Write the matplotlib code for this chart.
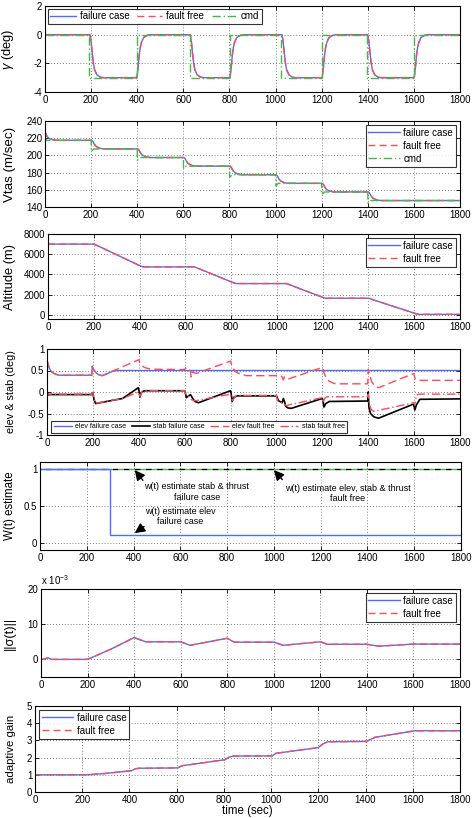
import matplotlib
matplotlib.use("Agg")
import matplotlib.pyplot as plt
from matplotlib.ticker import FuncFormatter

plt.rcParams['font.family'] = ['Liberation Sans', 'DejaVu Sans']
plt.rcParams['axes.unicode_minus'] = False
plt.rcParams['mathtext.fontset'] = 'custom'
plt.rcParams['mathtext.rm'] = 'Liberation Sans'
plt.rcParams['mathtext.it'] = 'Liberation Sans:italic'

BLUE = '#4f6dff'
RED = '#ff4a5a'
GREEN = '#3cbf3c'

time_ticks = [0, 200, 400, 600, 800, 1000, 1200, 1400, 1600, 1800]

# ---------------- Panel 1: flight path angle ----------------
gamma_t = [0, 195, 200, 205, 210, 215, 225, 240, 255,
           398, 403, 408, 413, 418, 428, 443, 458,
           630, 635, 640, 645, 650, 660, 675, 690,
           802, 807, 812, 817, 822, 832, 847, 862,
           1028, 1033, 1038, 1043, 1048, 1058, 1073, 1088,
           1202, 1207, 1212, 1217, 1222, 1232, 1247, 1262,
           1400, 1405, 1410, 1415, 1420, 1430, 1445, 1460,
           1601, 1606, 1611, 1616, 1621, 1631, 1646, 1661, 1800]
gamma_fail = [0, 0, -0.5, -1.3, -2.0, -2.45, -2.8, -2.97, -3.0,
              -3.0, -2.4, -1.5, -0.9, -0.55, -0.2, -0.05, 0.0,
              0, -0.5, -1.3, -2.0, -2.45, -2.8, -2.97, -3.0,
              -3.0, -2.4, -1.5, -0.9, -0.55, -0.2, -0.05, 0.0,
              0, -0.5, -1.3, -2.0, -2.45, -2.8, -2.97, -3.0,
              -3.0, -2.4, -1.5, -0.9, -0.55, -0.2, -0.05, 0.0,
              0, -0.5, -1.3, -2.0, -2.45, -2.8, -2.97, -3.0,
              -3.0, -2.4, -1.5, -0.9, -0.55, -0.2, -0.05, 0.0, 0.0]
gamma_ff = list(gamma_fail)
gamma_cmd_t = [0, 192, 192, 398, 398, 627, 627, 801, 801, 1025, 1025,
               1201, 1201, 1397, 1397, 1600, 1600, 1800]
gamma_cmd = [0, 0, -3, -3, 0, 0, -3, -3, 0, 0, -3, -3, 0, 0, -3, -3, 0, 0]

# ---------------- Panel 2: true airspeed ----------------
vtas_t = [0, 5, 10, 20, 30, 45, 60,
          203, 208, 213, 218, 223, 233, 243, 258,
          403, 408, 413, 418, 423, 433, 443, 458,
          603, 608, 613, 618, 623, 633, 643, 658,
          803, 808, 813, 818, 823, 833, 843, 858,
          1003, 1008, 1013, 1018, 1023, 1033, 1043, 1058,
          1203, 1208, 1213, 1218, 1223, 1233, 1243, 1258,
          1403, 1408, 1413, 1418, 1423, 1433, 1443, 1458, 1800]
vtas_fail = [228, 224, 221.5, 219.5, 218.5, 217.8, 217.5,
             217.5, 216, 213.5, 211.5, 210.2, 208.7, 208, 207.5,
             207.5, 206, 203.5, 201.5, 200.2, 198.7, 198, 197.5,
             197.5, 196, 193.5, 191.5, 190.2, 188.7, 188, 187.5,
             187.5, 186, 183.5, 181.5, 180.2, 178.7, 178, 177.5,
             177.5, 176, 173.5, 171.5, 170.2, 168.7, 168, 167.5,
             167.5, 166, 163.5, 161.5, 160.2, 158.7, 158, 157.5,
             157.5, 156, 153.5, 151.5, 150.2, 148.7, 148, 147.5, 147.5]
vtas_ff = list(vtas_fail)
vtas_cmd_t = [0, 5, 200, 201, 212, 400, 401, 412, 600, 601, 612, 800, 801, 812,
              1000, 1001, 1012, 1200, 1201, 1212, 1400, 1401, 1412, 1800]
vtas_cmd = [222, 217.5, 217.5, 204.5, 207.5, 207.5, 194.5, 197.5, 197.5, 184.5, 187.5,
            187.5, 174.5, 177.5, 177.5, 164.5, 167.5, 167.5, 154.5, 157.5, 157.5,
            144.5, 147.5, 147.5]

# ---------------- Panel 3: altitude ----------------
alt_t = [0, 200, 212, 400, 415, 640, 652, 808, 822, 1043, 1055, 1200, 1212, 1402, 1415, 1605, 1618, 1800]
alt_fail = [7000, 7000, 6890, 4880, 4750, 4750, 4640, 3200, 3100, 3100, 2990, 1740, 1650,
            1650, 1540, 140, 60, 60]
alt_ff = list(alt_fail)

# ---------------- Panel 4: elevator & stabilizer ----------------
elev_fail_t = [0, 3, 10, 20, 30, 45, 60, 195, 197, 200, 210, 225, 240, 260, 280, 300, 1800]
elev_fail = [0.75, 0.68, 0.55, 0.47, 0.43, 0.40, 0.39, 0.39, 0.60, 0.55, 0.47, 0.40,
             0.38, 0.42, 0.47, 0.50, 0.50]

elev_ff_t = [0, 3, 10, 20, 30, 45, 60, 195, 197, 200, 210, 225, 240, 400, 403, 412, 425,
             445, 470, 600, 604, 608, 625, 628, 632, 640, 650, 800, 803, 812, 825, 845,
             870, 1000, 1005, 1015, 1025, 1030, 1035, 1040, 1050, 1200, 1204, 1215,
             1230, 1250, 1270, 1398, 1400, 1405, 1415, 1430, 1445, 1598, 1602, 1606,
             1615, 1800]
elev_ff = [0.75, 0.68, 0.55, 0.47, 0.43, 0.40, 0.39, 0.39, 0.60, 0.55, 0.47, 0.40, 0.38,
           0.75, 0.70, 0.62, 0.57, 0.54, 0.53, 0.52, 0.56, 0.50, 0.50, 0.35, 0.47, 0.45,
           0.43, 0.72, 0.66, 0.54, 0.46, 0.41, 0.38, 0.38, 0.39, 0.38, 0.35, 0.28, 0.35,
           0.33, 0.30, 0.57, 0.50, 0.34, 0.25, 0.20, 0.19, 0.19, 0.52, 0.42, 0.24, 0.13,
           0.10, 0.43, 0.35, 0.30, 0.27, 0.27]

stab_fail_t = [0, 2, 5, 10, 195, 200, 205, 212, 220, 330, 398, 402, 405, 410, 420, 430,
               600, 603, 607, 615, 625, 630, 635, 645, 660, 800, 803, 807, 815, 830,
               1000, 1003, 1008, 1025, 1030, 1035, 1040, 1050, 1065, 1200, 1203, 1207,
               1215, 1230, 1398, 1400, 1403, 1410, 1425, 1445, 1598, 1603, 1610, 1625, 1800]
stab_fail = [0.05, -0.03, -0.07, -0.06, -0.06, -0.02, -0.18, -0.27, -0.26, -0.15, 0.10,
             0.00, -0.12, -0.02, 0.02, 0.03, 0.03, -0.02, -0.13, -0.10, -0.06, -0.10,
             -0.15, -0.22, -0.25, 0.03, -0.05, -0.22, -0.12, -0.09, -0.09, -0.12, -0.20,
             -0.25, -0.15, -0.22, -0.33, -0.37, -0.38, -0.15, -0.20, -0.35, -0.27, -0.22,
             -0.21, 0.00, -0.35, -0.50, -0.58, -0.61, -0.28, -0.42, -0.30, -0.17, -0.16]

stab_ff_t = [0, 2, 5, 10, 195, 200, 205, 212, 225, 330, 398, 402, 405, 412, 420, 430,
             600, 605, 620, 630, 640, 650, 800, 803, 810, 820, 830, 1000, 1005, 1015,
             1030, 1045, 1055, 1200, 1203, 1210, 1220, 1398, 1400, 1405, 1415, 1425,
             1598, 1603, 1610, 1620, 1800]
stab_ff = [0.05, -0.03, -0.05, -0.05, -0.05, -0.02, -0.18, -0.26, -0.25, -0.15, 0.00,
           -0.05, -0.10, -0.02, 0.02, 0.03, 0.03, -0.05, -0.12, -0.18, -0.20, -0.20,
           -0.05, -0.15, -0.20, -0.10, -0.08, -0.08, -0.20, -0.22, -0.28, -0.32, -0.30,
           -0.13, -0.25, -0.15, -0.11, -0.11, -0.05, -0.30, -0.42, -0.45, -0.25, -0.30,
           -0.07, -0.05, -0.05]

# ---------------- Panel 5: W(t) estimate ----------------
w_t = [0, 1800]
w_stab_thrust_fail = [1, 1]
w_ff = [1, 1]
w_elev_fail_t = [0, 300, 300, 1800]
w_elev_fail = [1, 1, 0.1, 0.1]

# ---------------- Panel 6: ||sigma(t)|| ----------------
sigma_t = [0, 15, 30, 45, 60, 200, 300, 400, 450, 600, 640, 800, 830, 1000, 1040,
           1200, 1230, 1400, 1450, 1600, 1800]
sigma_fail = [0.0, 0.1e-3, 0.5e-3, 0.0, 0.0, 0.0, 2.9e-3, 6.2e-3, 5.0e-3, 5.0e-3,
              4.0e-3, 6.0e-3, 4.9e-3, 4.9e-3, 4.0e-3, 5.0e-3, 4.3e-3, 4.3e-3,
              3.75e-3, 4.35e-3, 4.35e-3]
sigma_ff = list(sigma_fail)

# ---------------- Panel 7: adaptive gain ----------------
gain_t = [0, 220, 300, 410, 425, 440, 605, 620, 805, 820, 840, 1005, 1020, 1200,
          1220, 1240, 1405, 1420, 1440, 1610, 1800]
gain_fail = [1.0, 1.0, 1.08, 1.24, 1.35, 1.38, 1.4, 1.52, 1.88, 2.02, 2.09, 2.1, 2.25,
             2.58, 2.8, 2.92, 2.94, 3.05, 3.18, 3.56, 3.56]
gain_ff = list(gain_fail)

# ---------------------------------------------------------------
W, H = 473, 818
fig = plt.figure(figsize=(W / 100, H / 100), dpi=100)

def make_ax(left, right, top, bottom):
    ax = fig.add_axes([left / W, 1 - bottom / H, (right - left) / W, (bottom - top) / H])
    ax._px = (left, right)
    return ax

def style(ax, ylim, yticks, ylabel, lsize):
    ax.set_xlim(0, 1800)
    ax.set_ylim(*ylim)
    ax.set_xticks(time_ticks)
    ax.set_yticks(yticks)
    ax.grid(True, linestyle=(0, (1, 2.5)), color='#555555', linewidth=0.6)
    ax.tick_params(direction='in', top=True, right=True, labelsize=7, length=3,
                   width=0.6, pad=2)
    for s in ax.spines.values():
        s.set_linewidth(0.8)
    ax.set_ylabel(ylabel, fontsize=lsize)
    left, right = ax._px
    ax.yaxis.set_label_coords((16 - left) / (right - left), 0.5)

def box_legend(ax, **kw):
    opts = dict(fontsize=7, frameon=True, fancybox=False, edgecolor='black',
                handlelength=3.2, handletextpad=0.4, borderpad=0.3,
                labelspacing=0.3, borderaxespad=0.4)
    opts.update(kw)
    leg = ax.legend(**opts)
    leg.get_frame().set_linewidth(0.8)
    return leg

lw = 1.0
DASH = (0, (5, 3))
DASHDOT = (0, (6, 2, 1, 2))

# Panel 1
ax1 = make_ax(45, 460, 6, 92)
ax1.plot(gamma_t, gamma_fail, color=BLUE, lw=lw, label='failure case')
ax1.plot(gamma_t, gamma_ff, color=RED, lw=lw, ls=DASH, label='fault free')
ax1.plot(gamma_cmd_t, gamma_cmd, color=GREEN, lw=lw, ls=DASHDOT, label='cmd')
style(ax1, (-4, 2), [-4, -2, 0, 2], r'$\gamma$ (deg)', 9.3)
box_legend(ax1, loc='upper left', ncol=3, handlelength=2.6, columnspacing=0.8,
           borderpad=0.25, borderaxespad=0.3)

# Panel 2
ax2 = make_ax(45, 460, 121, 207)
ax2.plot(vtas_t, vtas_fail, color=BLUE, lw=lw, label='failure case')
ax2.plot(vtas_t, vtas_ff, color=RED, lw=lw, ls=DASH, label='fault free')
ax2.plot(vtas_cmd_t, vtas_cmd, color=GREEN, lw=lw, ls=DASHDOT, label='cmd')
style(ax2, (140, 240), [140, 160, 180, 200, 220, 240], 'Vtas (m/sec)', 9.6)
box_legend(ax2, loc='upper right')

# Panel 3
ax3 = make_ax(48, 460, 234, 319)
ax3.plot(alt_t, alt_fail, color=BLUE, lw=lw, label='failure case')
ax3.plot(alt_t, alt_ff, color=RED, lw=lw, ls=DASH, label='fault free')
style(ax3, (-400, 8000), [0, 2000, 4000, 6000, 8000], 'Altitude (m)', 9.3)
box_legend(ax3, loc='upper right')

# Panel 4
ax4 = make_ax(47, 460, 349, 435)
ax4.plot(elev_fail_t, elev_fail, color=BLUE, lw=lw, label='elev failure case')
ax4.plot(stab_fail_t, stab_fail, color='black', lw=1.2, label='stab failure case')
ax4.plot(elev_ff_t, elev_ff, color=RED, lw=lw, ls=(0, (6, 3)), label='elev fault free')
ax4.plot(stab_ff_t, stab_ff, color=RED, lw=lw, ls=DASHDOT, label='stab fault free')
style(ax4, (-1, 1), [-1, -0.5, 0, 0.5, 1], 'elev & stab (deg)', 7.8)
ax4.set_yticklabels(['-1', '-0.5', '0', '0.5', '1'])
box_legend(ax4, loc='lower left', ncol=4, fontsize=5, handlelength=2.6,
           columnspacing=0.8, handletextpad=0.5, borderpad=0.35, borderaxespad=0.3,
           bbox_to_anchor=(0.005, 0.0))

# Panel 5
ax5 = make_ax(40, 461, 462, 550)
ax5.plot(w_t, w_ff, color=GREEN, lw=lw, ls=(0, (4, 4)))
ax5.plot(w_t, w_stab_thrust_fail, color='black', lw=lw, ls=(4, (4, 4)))
ax5.plot(w_elev_fail_t, w_elev_fail, color=BLUE, lw=lw)
style(ax5, (-0.1, 1.1), [0, 0.5, 1], 'W(t) estimate', 8.3)
ax5.set_yticklabels(['0', '0.5', '1'])
arrow = dict(arrowstyle='-|>,head_length=0.6,head_width=0.3', color='black', lw=1.0,
             shrinkA=0, shrinkB=0)
ax5.annotate('', xy=(405, 0.99), xytext=(440, 0.85), arrowprops=arrow)
ax5.annotate('', xy=(1000, 0.99), xytext=(1036, 0.86), arrowprops=arrow)
ax5.annotate('', xy=(405, 0.13), xytext=(445, 0.22), arrowprops=arrow)
ax5.text(670, 0.69, 'w(t) estimate stab & thrust\nfailure case', fontsize=6.5,
         ha='center', va='center', linespacing=1.2)
ax5.text(600, 0.36, 'w(t) estimate elev\nfailure case', fontsize=6.5,
         ha='center', va='center', linespacing=1.2)
ax5.text(1315, 0.67, 'w(t) estimate elev, stab & thrust\nfault free', fontsize=6.5,
         ha='center', va='center', linespacing=1.2)

# Panel 6
ax6 = make_ax(41, 460, 589, 677)
ax6.plot(sigma_t, sigma_fail, color=BLUE, lw=lw, label='failure case')
ax6.plot(sigma_t, sigma_ff, color=RED, lw=lw, ls=DASH, label='fault free')
style(ax6, (-5e-3, 20e-3), [0, 10e-3, 20e-3], '||\u03c3(t)||', 9.3)
ax6.yaxis.set_major_formatter(FuncFormatter(lambda v, p: '%g' % round(v * 1e3, 6)))
ax6.text(0.0, 1.02, r'x 10$^{-3}$', transform=ax6.transAxes, fontsize=7,
         ha='left', va='bottom')
box_legend(ax6, loc='upper right')

# Panel 7
ax7 = make_ax(35, 460, 706, 792)
ax7.plot(gain_t, gain_fail, color=BLUE, lw=lw, label='failure case')
ax7.plot(gain_t, gain_ff, color=RED, lw=lw, ls=DASH, label='fault free')
style(ax7, (0, 5), [0, 1, 2, 3, 4, 5], 'adaptive gain', 8.2)
ax7.set_xlabel('time (sec)', fontsize=8.3, labelpad=0)
box_legend(ax7, loc='upper left')

fig.savefig('out.png', dpi=100)
